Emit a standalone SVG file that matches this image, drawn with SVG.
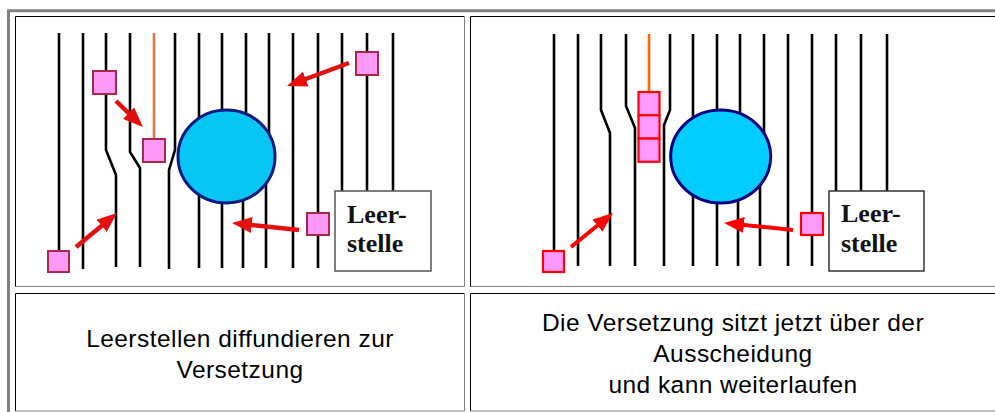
<svg xmlns="http://www.w3.org/2000/svg" width="995" height="412" viewBox="0 0 995 412">
  <style>
    .frame { fill: none; stroke: #808080; stroke-width: 3; }
    .cellDark { fill: none; stroke: #000; stroke-width: 1; }
    .cellLight { fill: none; stroke: #808080; stroke-width: 1; }
    .line { fill: none; stroke: #000; stroke-width: 2.6; stroke-linejoin: round; }
    .orangeL { fill: none; stroke: #e07a45; stroke-width: 2.6; }
    .orangeR { fill: none; stroke: #ff6600; stroke-width: 2.6; }
    .blobL { fill: #08c6f4; stroke: #0a1a80; stroke-width: 3; }
    .blobR { fill: #00ccff; stroke: #000080; stroke-width: 3; }
    .vacL { fill: #ff99f7; stroke: #a8284a; stroke-width: 2; }
    .vacR { fill: #ff99ff; stroke: #ff0000; stroke-width: 2.2; }
    .label { fill: #fff; stroke: #555; stroke-width: 1.5; }
    .labelR { fill: #fff; stroke: #333; stroke-width: 1.5; }
    .lt { font-family: "Liberation Serif", "Times New Roman", serif; font-weight: bold; font-size: 26px; fill: #111; }
    .cap { font-family: "Liberation Sans", Arial, sans-serif; font-size: 24.5px; letter-spacing: 0.45px; fill: #000; text-anchor: middle; }
    .arrL { stroke: #e41010; stroke-width: 4.5; fill: none; marker-end: url(#headL); }
    .arrR { stroke: #ff0000; stroke-width: 4; fill: none; marker-end: url(#headR); }
  </style>
  <defs>
    <marker id="headL" viewBox="0 0 20 16" refX="10" refY="8" markerWidth="20" markerHeight="16" markerUnits="userSpaceOnUse" orient="auto">
      <path d="M0,0 L20,8 L0,16 Z" fill="#e41010"/>
    </marker>
    <marker id="headR" viewBox="0 0 20 16" refX="10" refY="8" markerWidth="20" markerHeight="16" markerUnits="userSpaceOnUse" orient="auto">
      <path d="M0,0 L20,8 L0,16 Z" fill="#ff0000"/>
    </marker>
  </defs>

  <rect width="995" height="412" fill="#fff"/>

  <!-- table frame -->
  <g id="table">
    <path class="frame" d="M8.5,412 V10.7 H995"/>
    <!-- top-left cell -->
    <path class="cellDark" d="M15.5,287 V16.5 H464.5"/>
    <path class="cellLight" d="M15.5,286.5 H464.5 V16.5"/>
    <!-- top-right cell -->
    <path class="cellDark" d="M470.5,287 V16.5 H995"/>
    <path class="cellLight" d="M470.5,286.5 H995"/>
    <!-- bottom-left cell -->
    <path class="cellDark" d="M15.5,411 V293.5 H464.5"/>
    <path class="cellLight" d="M15.5,411 H464.5 V293.5"/>
    <!-- bottom-right cell -->
    <path class="cellDark" d="M470.5,411 V293.5 H995"/>
    <path class="cellLight" d="M470.5,411 H995"/>
  </g>

  <!-- left panel: vacancies diffusing toward the dislocation -->
  <g id="panel-left">
    <polyline class="line" points="59,33 59,251"/>
    <polyline class="line" points="83,33 83,269"/>
    <polyline class="line" points="106,33 106,150 116,175 116,267"/>
    <polyline class="line" points="130,33 130,152 140,168 140,267"/>
    <polyline class="orangeL" points="154,33 154,140"/>
    <polyline class="line" points="175,33 175,150 169,170 169,269"/>
    <polyline class="line" points="199,33 199,268"/>
    <polyline class="line" points="222,33 222,268"/>
    <polyline class="line" points="246,33 246,150 243,170 243,268"/>
    <polyline class="line" points="269,33 269,150 266,170 266,268"/>
    <polyline class="line" points="293,33 293,268"/>
    <polyline class="line" points="318,33 318,268"/>
    <polyline class="line" points="342,33 342,191"/>
    <polyline class="line" points="367,33 367,191"/>
    <polyline class="line" points="393,33 393,191"/>
    <ellipse id="precipitate-left" class="blobL" cx="226.5" cy="156.5" rx="48.5" ry="46.5"/>
  </g>
  <g id="vacancies-left">
    <rect class="vacL" x="93" y="71" width="23" height="23"/>
    <rect class="vacL" x="143" y="139" width="22" height="23"/>
    <rect class="vacL" x="356" y="52" width="22" height="23"/>
    <rect class="vacL" x="307" y="213" width="22" height="22"/>
    <rect class="vacL" x="48" y="251" width="21" height="21"/>
  </g>
  <g id="label-left">
    <rect class="label" x="335" y="191" width="96" height="80"/>
    <text class="lt" x="347" y="223">Leer-</text>
    <text class="lt" x="347" y="252">stelle</text>
  </g>

  <!-- right panel: dislocation above the precipitate -->
  <g id="panel-right">
    <polyline class="line" points="554,34 554,251"/>
    <polyline class="line" points="578,34 578,266"/>
    <polyline class="line" points="601,34 601,110 610,133 610,266"/>
    <polyline class="line" points="626,34 626,106 635,128 635,266"/>
    <polyline class="orangeR" points="649,34 649,92"/>
    <polyline class="line" points="670,34 670,110 664,125 664,266"/>
    <polyline class="line" points="693,34 693,266"/>
    <polyline class="line" points="717,34 717,266"/>
    <polyline class="line" points="740,34 740,150 738,170 738,266"/>
    <polyline class="line" points="764,34 764,150 760,170 760,266"/>
    <polyline class="line" points="788,34 788,266"/>
    <polyline class="line" points="812,34 812,266"/>
    <polyline class="line" points="836,34 836,191"/>
    <polyline class="line" points="861,34 861,191"/>
    <polyline class="line" points="887,34 887,191"/>
    <ellipse id="precipitate-right" class="blobR" cx="720.7" cy="156.5" rx="50" ry="46.5"/>
  </g>
  <g id="vacancies-right">
    <rect class="vacR" x="638.5" y="92" width="21" height="23.3"/>
    <rect class="vacR" x="638.5" y="115.3" width="21" height="23.3"/>
    <rect class="vacR" x="638.5" y="138.6" width="21" height="23.2"/>
    <rect class="vacR" x="543" y="251" width="21" height="21"/>
    <rect class="vacR" x="801" y="213" width="22" height="22"/>
  </g>
  <g id="label-right">
    <rect class="labelR" x="829" y="191" width="95" height="80"/>
    <text class="lt" x="841" y="222">Leer-</text>
    <text class="lt" x="841" y="252">stelle</text>
  </g>

  <!-- movement arrows -->
  <g id="connectors">
    <line class="arrL" x1="116" y1="101" x2="135.8" y2="120.1"/>
    <line class="arrL" x1="349" y1="63" x2="296.4" y2="82.5"/>
    <line class="arrL" x1="76" y1="247" x2="109.3" y2="219.4"/>
    <line class="arrL" x1="299" y1="230" x2="241.9" y2="224"/>
    <line class="arrR" x1="571" y1="247" x2="605.2" y2="219.3"/>
    <line class="arrR" x1="793" y1="230" x2="734" y2="224"/>
  </g>

  <!-- captions -->
  <g id="caption-left">
    <text class="cap" x="240" y="347">Leerstellen diffundieren zur</text>
    <text class="cap" x="240" y="378">Versetzung</text>
  </g>
  <g id="caption-right">
    <text class="cap" x="733" y="331">Die Versetzung sitzt jetzt über der</text>
    <text class="cap" x="733" y="362">Ausscheidung</text>
    <text class="cap" x="733" y="393">und kann weiterlaufen</text>
  </g>
</svg>
